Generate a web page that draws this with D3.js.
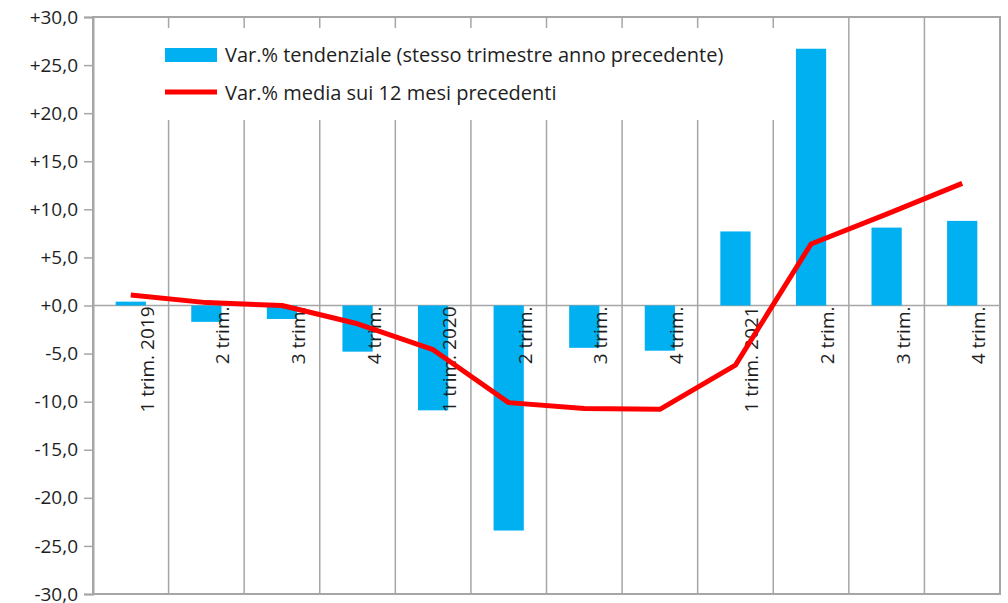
<!DOCTYPE html>
<html>
<head>
<meta charset="utf-8">
<script src="https://cdn.jsdelivr.net/npm/d3@7"></script>
<style>
  body { margin: 0; background: #fff; }
  text { font-family: "Open Sans", sans-serif; fill: #1e1e1e; }
</style>
</head>
<body>
<div id="viz"></div>
<script>
const labels = ["1 trim. 2019", "2 trim.", "3 trim.", "4 trim.",
  "1 trim. 2020", "2 trim.", "3 trim.", "4 trim.",
  "1 trim. 2021", "2 trim.", "3 trim.", "4 trim."];
const barValues = [0.4, -1.7, -1.4, -4.8, -10.9, -23.4, -4.4, -4.7, 7.7, 26.7, 8.1, 8.8];
const lineValues = [1.1, 0.3, 0.0, -1.9, -4.6, -10.1, -10.7, -10.8, -6.2, 6.4, 9.5, 12.7];
const yTicks = [-30, -25, -20, -15, -10, -5, 0, 5, 10, 15, 20, 25, 30];
const legendNames = ["Var.% tendenziale (stesso trimestre anno precedente)",
  "Var.% media sui 12 mesi precedenti"];

const width = 1008, height = 603;
const margin = {top: 17, right: 8, bottom: 9, left: 93};
const barColor = "#00b0f0", lineColor = "#ff0000", gridColor = "#a6a6a6";

const svg = d3.select("#viz").append("svg")
  .attr("width", width)
  .attr("height", height);

const x = d3.scaleBand()
  .domain(d3.range(labels.length))
  .range([margin.left, width - margin.right])
  .padding(0);

const y = d3.scaleLinear()
  .domain([-30, 30])
  .range([height - margin.bottom, margin.top]);

// vertical grid at category boundaries
svg.append("g")
  .selectAll("line")
  .data(d3.range(1, labels.length))
  .enter().append("line")
    .attr("x1", d => x(d)).attr("x2", d => x(d))
    .attr("y1", y(30)).attr("y2", y(-30))
    .attr("stroke", gridColor)
    .attr("stroke-width", 1.5);

// plot border
svg.append("rect")
  .attr("x", x.range()[0]).attr("y", y(30))
  .attr("width", x.range()[1] - x.range()[0])
  .attr("height", y(-30) - y(30))
  .attr("fill", "none")
  .attr("stroke", gridColor)
  .attr("stroke-width", 2);

// legend background hides grid
svg.append("rect")
  .attr("x", 150).attr("y", 28)
  .attr("width", 630).attr("height", 92)
  .attr("fill", "#fff");

// y axis
const yAxis = svg.append("g")
  .attr("transform", `translate(${margin.left},0)`)
  .call(d3.axisLeft(y)
    .tickValues(yTicks)
    .tickSize(9)
    .tickPadding(6)
    .tickFormat(v => (v < 0 ? "-" : "+") + Math.abs(v).toFixed(1).replace(".", ",")));
yAxis.select(".domain").attr("stroke", gridColor).attr("stroke-width", 2);
yAxis.selectAll(".tick line").attr("stroke", gridColor).attr("stroke-width", 1.5);
yAxis.selectAll(".tick text")
  .attr("font-size", 19)
  .attr("font-family", "Open Sans, sans-serif")
  .attr("fill", "#1e1e1e");

// zero line
svg.append("line")
  .attr("x1", x.range()[0]).attr("x2", x.range()[1])
  .attr("y1", y(0)).attr("y2", y(0))
  .attr("stroke", gridColor)
  .attr("stroke-width", 1.5);

// bars
const bw = x.bandwidth() * 0.4;
svg.append("g")
  .selectAll("rect")
  .data(barValues)
  .enter().append("rect")
    .attr("x", (d, i) => x(i) + x.bandwidth() / 2 - bw / 2)
    .attr("y", d => y(Math.max(0, d)))
    .attr("width", bw)
    .attr("height", d => Math.abs(y(d) - y(0)))
    .attr("fill", barColor);

// category labels, rotated
svg.append("g")
  .selectAll("text")
  .data(labels)
  .enter().append("text")
    .attr("transform", (d, i) => `translate(${x(i) + x.bandwidth() / 2 + 23},${y(0) + 1}) rotate(-90)`)
    .attr("text-anchor", "end")
    .attr("font-size", 19)
    .text(d => d);

// line
const line = d3.line()
  .x((d, i) => x(i) + x.bandwidth() / 2)
  .y(d => y(d));
svg.append("path")
  .datum(lineValues)
  .attr("d", line)
  .attr("fill", "none")
  .attr("stroke", lineColor)
  .attr("stroke-width", 5)
  .attr("stroke-linejoin", "round");

// legend
const lg = svg.append("g");
lg.append("rect")
  .attr("x", 165).attr("y", 48)
  .attr("width", 52).attr("height", 14)
  .attr("fill", barColor);
lg.append("line")
  .attr("x1", 165).attr("x2", 217)
  .attr("y1", 92).attr("y2", 92)
  .attr("stroke", lineColor)
  .attr("stroke-width", 5);
lg.selectAll("text")
  .data(legendNames)
  .enter().append("text")
    .attr("x", 225)
    .attr("y", (d, i) => 55 + i * 38)
    .attr("dy", "0.35em")
    .attr("font-size", 20)
    .text(d => d);
</script>
</body>
</html>
